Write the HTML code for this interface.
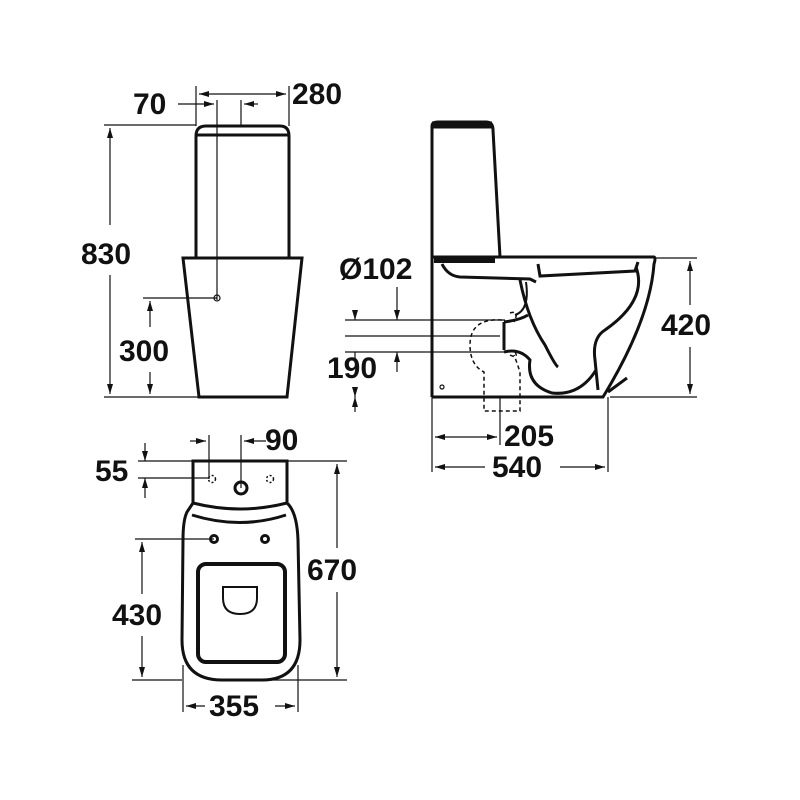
<!DOCTYPE html>
<html><head><style>body{margin:0;background:#fff}svg{display:block}text{font-family:"Liberation Sans",sans-serif;font-weight:bold;font-size:30px;fill:#111}</style></head>
<body>
<svg width="800" height="800" viewBox="0 0 800 800" xmlns="http://www.w3.org/2000/svg">
<defs><marker id="a" viewBox="0 0 10 6" refX="10" refY="3" markerWidth="10" markerHeight="6" orient="auto-start-reverse" markerUnits="userSpaceOnUse"><path d="M0,0L10,3L0,6z" fill="#111"/></marker></defs>
<g stroke="#111" fill="none">
<!-- FRONT VIEW -->
<g stroke-width="3">
<path d="M196,258V136Q196,126 206,126H280Q289,126 289,136V258"/>
<line x1="196" y1="135" x2="289" y2="135"/>
<path d="M183,258H302L287,397H199Z"/>
</g>
<g stroke-width="1.2">
<line x1="217" y1="100" x2="217" y2="300"/><line x1="241" y1="100" x2="241" y2="126"/>
<line x1="196" y1="86" x2="196" y2="126"/><line x1="289" y1="86" x2="289" y2="126"/>
<line x1="199" y1="94" x2="286" y2="94" marker-start="url(#a)" marker-end="url(#a)"/>
<line x1="178" y1="104" x2="214" y2="104" marker-end="url(#a)"/><line x1="244" y1="104" x2="258" y2="104" marker-start="url(#a)"/>
<circle cx="217" cy="298" r="3"/>
<line x1="104" y1="125" x2="196" y2="125"/><line x1="104" y1="397" x2="199" y2="397"/>
<line x1="110" y1="128" x2="110" y2="225" marker-start="url(#a)"/><line x1="110" y1="275" x2="110" y2="394" marker-end="url(#a)"/>
<line x1="143" y1="298" x2="217" y2="298"/>
<line x1="150" y1="301" x2="150" y2="327" marker-start="url(#a)"/><line x1="150" y1="372" x2="150" y2="394" marker-end="url(#a)"/>
</g>
<!-- SIDE VIEW -->
<g stroke-width="3">
<path d="M432,397V126Q432,122 438,122H486Q493,122 493,130L500,257"/>
<path d="M432,125H492" stroke-width="7"/>
<path d="M432,257H654Q656,258 654,264Q650,320 603,397H432"/>
<path d="M434,260H495" stroke-width="6"/>
<path d="M442,264Q448,276 460,277L530,279L536,282"/>
<path d="M538,264L540,276L635,271L638,262"/>
<path d="M520,280Q528,320 545,345Q555,365 558,367"/>
<path d="M636,267Q648,300 605,330Q592,338 595,360L598,390"/>
<path d="M608,392L627,378"/>
<path d="M504,322Q520,320 528,315"/>
<path d="M504,322V350"/>
<path d="M504,352Q520,348 530,360Q526,385 552,393Q580,396 596,370"/>
<path d="M526,282Q530,310 515,315" stroke-width="2"/>
</g>
<g stroke-width="1.5" stroke-dasharray="4,3">
<path d="M502,320Q470,318 470,345Q470,365 484,372V411H520V372Q516,360 514,355"/>
<path d="M510,313Q520,310 514,322"/><path d="M510,355Q520,360 514,350"/>
</g>
<g stroke-width="1.2">
<circle cx="442" cy="387" r="2"/>
<line x1="345" y1="320" x2="505" y2="320"/><line x1="345" y1="336" x2="500" y2="336"/><line x1="345" y1="352" x2="505" y2="352"/>
<line x1="355" y1="316" x2="355" y2="320" marker-end="url(#a)"/><line x1="355" y1="352" x2="355" y2="360"/>
<line x1="397" y1="287" x2="397" y2="320" marker-end="url(#a)"/><line x1="397" y1="352" x2="397" y2="372" marker-start="url(#a)"/>
<line x1="355" y1="387" x2="355" y2="397" marker-end="url(#a)"/><line x1="355" y1="397" x2="355" y2="412" marker-start="url(#a)"/>
<line x1="654" y1="258" x2="697" y2="258"/><line x1="610" y1="397" x2="697" y2="397"/>
<line x1="690" y1="261" x2="690" y2="305" marker-start="url(#a)"/><line x1="690" y1="347" x2="690" y2="394" marker-end="url(#a)"/>
<line x1="432" y1="397" x2="432" y2="472"/><line x1="608" y1="397" x2="608" y2="472"/><line x1="500" y1="397" x2="500" y2="445"/>
<line x1="435" y1="437" x2="497" y2="437" marker-start="url(#a)" marker-end="url(#a)"/>
<line x1="435" y1="467" x2="485" y2="467" marker-start="url(#a)"/><line x1="560" y1="467" x2="605" y2="467" marker-end="url(#a)"/>
</g>
<!-- PLAN VIEW -->
<g stroke-width="3">
<path d="M193,461H287V503Q240,515 193,503Z"/>
<path d="M193,503L187,512Q183,520 183,540L182,640Q182,680 222,680H262Q300,680 300,640L298,540Q297,512 287,503"/>
<path d="M192,515Q240,530 286,515"/>
<rect x="198" y="564" width="87" height="98" rx="8" stroke-width="4"/>
<path d="M223,587H257V598Q257,614 240,614Q223,614 223,598Z" stroke-width="2"/>
<circle cx="241" cy="488" r="6"/>
<circle cx="214" cy="539" r="3.5"/><circle cx="265" cy="539" r="3.5"/>
</g>
<g stroke-width="1.5"><circle cx="212" cy="479" r="3.5" stroke-dasharray="2,2"/><circle cx="270" cy="479" r="3.5" stroke-dasharray="2,2"/></g>
<g stroke-width="1.2">
<line x1="209" y1="435" x2="209" y2="479"/><line x1="241" y1="435" x2="241" y2="488"/>
<line x1="190" y1="441" x2="206" y2="441" marker-end="url(#a)"/><line x1="244" y1="441" x2="266" y2="441" marker-start="url(#a)"/>
<line x1="138" y1="461" x2="193" y2="461"/><line x1="138" y1="478" x2="209" y2="478"/>
<line x1="145" y1="443" x2="145" y2="461" marker-end="url(#a)"/><line x1="145" y1="478" x2="145" y2="498" marker-start="url(#a)"/>
<line x1="287" y1="461" x2="347" y2="461"/><line x1="262" y1="680" x2="347" y2="680"/>
<line x1="337" y1="464" x2="337" y2="548" marker-start="url(#a)"/><line x1="337" y1="592" x2="337" y2="677" marker-end="url(#a)"/>
<line x1="135" y1="539" x2="214" y2="539"/><line x1="132" y1="680" x2="182" y2="680"/>
<line x1="142" y1="542" x2="142" y2="594" marker-start="url(#a)"/><line x1="142" y1="636" x2="142" y2="677" marker-end="url(#a)"/>
<line x1="183" y1="665" x2="183" y2="712"/><line x1="298" y1="665" x2="298" y2="712"/>
<line x1="186" y1="706" x2="205" y2="706" marker-start="url(#a)"/><line x1="275" y1="706" x2="295" y2="706" marker-end="url(#a)"/>
</g>
</g>
<text x="133" y="114">70</text><text x="292" y="104">280</text>
<text x="81" y="264">830</text><text x="119" y="361">300</text>
<text x="339" y="279">Ø102</text><text x="327" y="378">190</text>
<text x="661" y="335">420</text><text x="504" y="446">205</text><text x="492" y="477">540</text>
<text x="265" y="450">90</text><text x="95" y="481">55</text>
<text x="307" y="580">670</text><text x="112" y="625">430</text><text x="209" y="716">355</text>
</svg>
</body></html>
